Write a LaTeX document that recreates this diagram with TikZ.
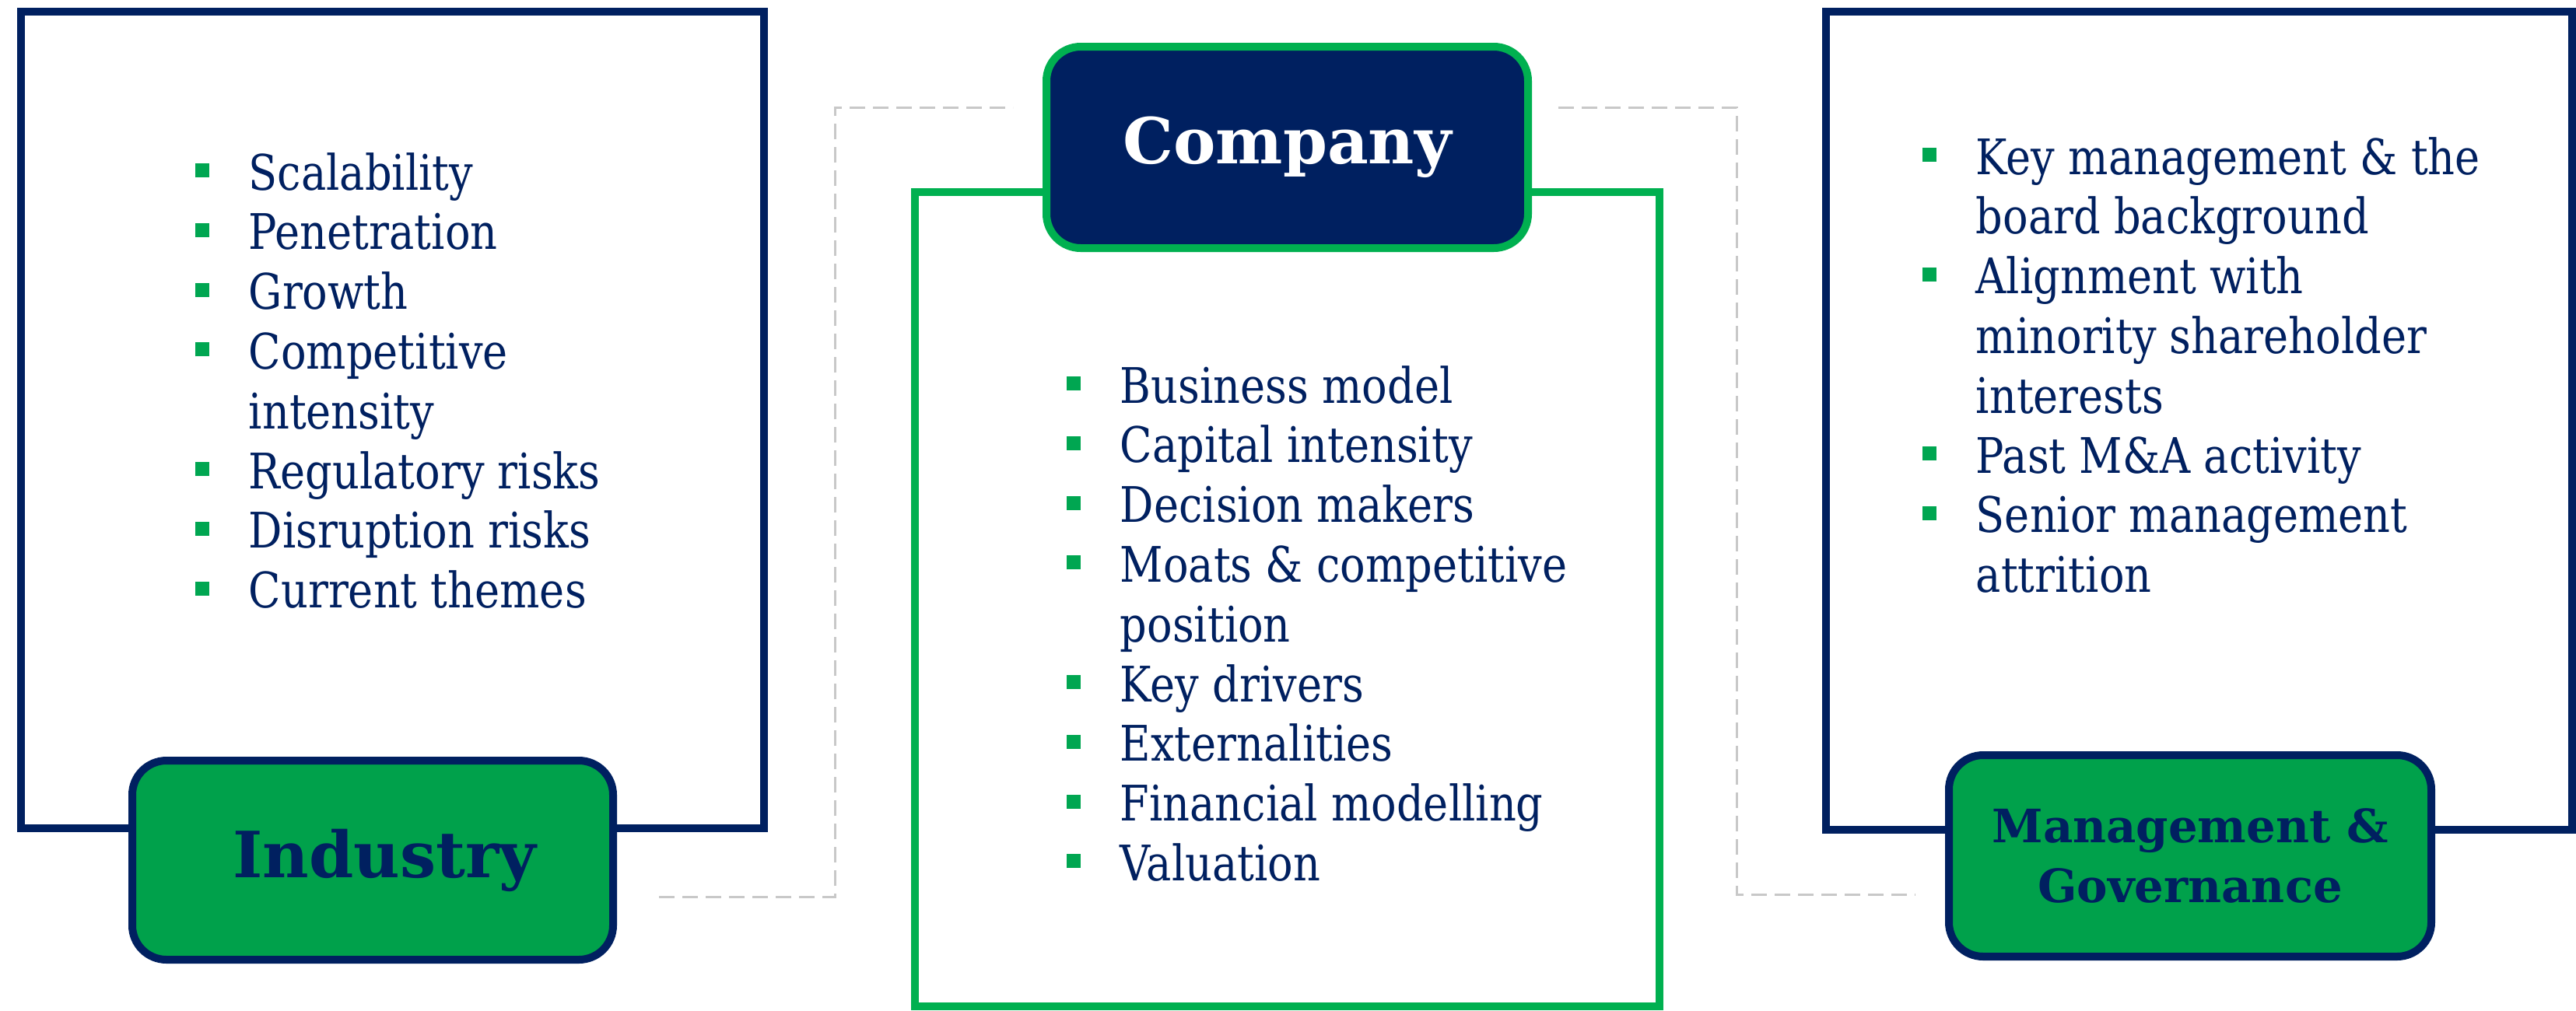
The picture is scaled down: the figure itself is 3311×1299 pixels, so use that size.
\documentclass[tikz,border=0pt]{standalone}
\usepackage{fontspec}
\setmainfont{DejaVu Serif}[FakeStretch=0.86]
\newfontfamily\titlefont{DejaVu Serif}[FakeStretch=1.0]
\definecolor{navy}{HTML}{002060}
\definecolor{grnfill}{HTML}{00A14B}
\definecolor{grnline}{HTML}{00B050}
\definecolor{bulgrn}{HTML}{00A651}
\definecolor{dashgray}{HTML}{C8C8C8}
\newcommand{\bitem}[1]{\par\noindent\hangindent=17.25pt\hangafter=1\makebox[17.25pt][l]{\textcolor{bulgrn}{\rule[4pt]{4.5pt}{4.5pt}}}#1}
\newcommand{\blist}[1]{\parbox[t]{220pt}{\setlength{\parskip}{0pt}#1\par}}
\tikzset{
  navyframe/.style={draw=navy, line width=2.5pt, fill=white, inner sep=0pt},
  greenframe/.style={draw=grnline, line width=2.5pt, fill=white, inner sep=0pt},
  greentitle/.style={draw=navy, line width=2.5pt, fill=grnfill, rounded corners=11pt, inner sep=0pt, text=navy},
  navytitle/.style={draw=grnline, line width=2.5pt, fill=navy, rounded corners=11pt, inner sep=0pt, text=white},
  listtext/.style={inner sep=0pt, text=navy, font=\fontsize{15.75}{19.2}\selectfont},
  dashline/.style={draw=dashgray, line width=0.75pt, dash pattern=on 5pt off 2.5pt}
}
\begin{document}
\begin{tikzpicture}[x=0.25pt,y=-0.25pt]
\useasboundingbox (0,0) rectangle (3311,1299);
% dashed connectors
\coordinate (cl1) at (847,1153);
\coordinate (clm) at (1073,138);
\coordinate (cl2) at (1302,138);
\coordinate (cr1) at (2003,138);
\coordinate (crm) at (2232,1150);
\coordinate (cr2) at (2462,1150);
\draw[dashline] (cl1) -| (clm) -- (cl2);
\draw[dashline] (cr1) -| (crm) -- (cr2);
% frames
\node[navyframe, minimum width=238.75pt, minimum height=262.5pt] (indframe) at (504.5,540) {};
\node[greenframe, minimum width=239.25pt, minimum height=261.75pt] (compframe) at (1654.5,770.5) {};
\node[navyframe, minimum width=239.75pt, minimum height=263pt] (mgmtframe) at (2826.5,541) {};
% titles
\node[greentitle, minimum width=154.5pt, minimum height=64pt, font=\titlefont\bfseries\fontsize{20.5}{24}\selectfont] (indtitle) at (479,1106) {\hspace*{7.5pt}Industry};
\node[navytitle, minimum width=154.75pt, minimum height=64.75pt, font=\titlefont\bfseries\fontsize{20.4}{25}\selectfont] (comptitle) at (1654.5,189.5) {Company};
\node[greentitle, minimum width=155pt, minimum height=64.75pt, align=center, font=\titlefont\bfseries\fontsize{14.8}{19.2}\selectfont] (mgmttitle) at (2815,1100.5) {Management \&\\Governance};
% lists
\node[listtext, anchor=base west] (indlist) at (250,244) {\blist{%
\bitem{Scalability}\bitem{Penetration}\bitem{Growth}\bitem{Competitive\newline intensity}\bitem{Regulatory risks}\bitem{Disruption risks}\bitem{Current themes}}};
\node[listtext, anchor=base west] (complist) at (1370,518) {\blist{%
\bitem{Business model}\bitem{Capital intensity}\bitem{Decision makers}\bitem{Moats \& competitive\newline position}\bitem{Key drivers}\bitem{Externalities}\bitem{Financial modelling}\bitem{Valuation}}};
\node[listtext, anchor=base west] (mgmtlist) at (2470,224) {\blist{%
\bitem{Key management \& the\newline board background}\bitem{Alignment with\newline minority shareholder\newline interests}\bitem{Past M\&A activity}\bitem{Senior management\newline attrition}}};
\end{tikzpicture}
\end{document}
